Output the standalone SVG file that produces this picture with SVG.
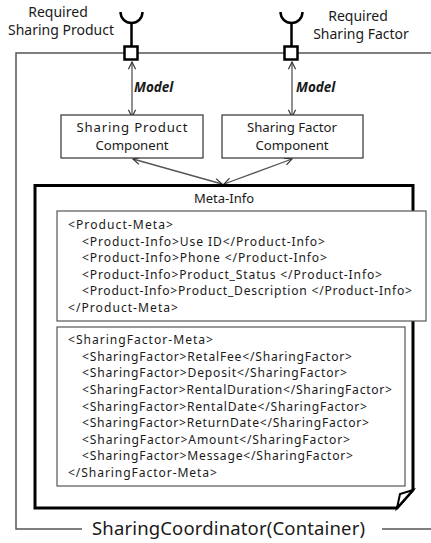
<svg xmlns="http://www.w3.org/2000/svg" width="431" height="543" viewBox="0 0 431 543">
<style>
text{font-family:"Noto Sans","Open Sans","DejaVu Sans",sans-serif;fill:#1a1a1a}
.lbl{font-size:14px}
.cmp{font-size:13.2px}
.code{font-size:12.1px}
.frame{fill:none;stroke:#555;stroke-width:1.5}
.box{fill:#fff;stroke:#333;stroke-width:1.2}
.gbox{fill:#fff;stroke:#555;stroke-width:1.2}
.port{fill:#fff;stroke:#000;stroke-width:2.5}
.sock{fill:none;stroke:#000;stroke-width:2.5}
.conn{stroke:#555;stroke-width:1.3;fill:none}
.model{font-size:13.5px;font-weight:bold;font-style:italic}
</style>
<defs>
<marker id="ah" viewBox="0 0 10 10" refX="9" refY="5" markerWidth="9" markerHeight="9" orient="auto-start-reverse" markerUnits="userSpaceOnUse">
<path d="M1,1 L9,5 L1,9" fill="none" stroke="#333" stroke-width="1.3"/>
</marker>
</defs>
<g id="container">
<path class="frame" d="M82,529 L16,529 L16,53 L431,53"/>
<path class="frame" d="M382,529 L431,529"/>
<text x="92" y="535" textLength="273" style="font-size:18.5px">SharingCoordinator(Container)</text>
</g>
<g id="port-product">
<path class="sock" d="M120.5,12 A11,11 0 0 0 142.5,12"/>
<line class="sock" x1="131.5" y1="23" x2="131.5" y2="46"/>
<rect class="port" x="124.5" y="46.5" width="13" height="13"/>
<text class="lbl" text-anchor="middle"><tspan x="58" y="17">Required</tspan><tspan x="61" y="35">Sharing Product</tspan></text>
</g>
<g id="port-factor">
<path class="sock" d="M280.5,12 A11,11 0 0 0 302.5,12"/>
<line class="sock" x1="291.5" y1="23" x2="291.5" y2="46"/>
<rect class="port" x="284.5" y="46.5" width="13" height="13"/>
<text class="lbl" text-anchor="middle"><tspan x="358" y="21">Required</tspan><tspan x="361" y="39">Sharing Factor</tspan></text>
</g>
<g id="connectors">
<line class="conn" x1="132" y1="62" x2="132" y2="117" marker-start="url(#ah)" marker-end="url(#ah)"/>
<line class="conn" x1="292" y1="62" x2="292" y2="117" marker-start="url(#ah)" marker-end="url(#ah)"/>
<line class="conn" x1="133" y1="159" x2="222" y2="184" marker-start="url(#ah)" marker-end="url(#ah)"/>
<line class="conn" x1="292" y1="159" x2="224" y2="184" marker-start="url(#ah)" marker-end="url(#ah)"/>
<text class="model" x="134" y="92">Model</text>
<text class="model" x="296" y="92">Model</text>
</g>
<g id="sharing-product-component">
<rect class="box" x="61" y="115" width="142" height="43"/>
<text class="cmp" text-anchor="middle"><tspan x="132" y="131.5" textLength="111">Sharing Product</tspan><tspan x="132" y="149.5">Component</tspan></text>
</g>
<g id="sharing-factor-component">
<rect class="box" x="222" y="115" width="141" height="43"/>
<text class="cmp" text-anchor="middle"><tspan x="292" y="131.5">Sharing Factor</tspan><tspan x="292" y="149.5">Component</tspan></text>
</g>
<g id="meta-info">
<path d="M35,185.5 L413,185.5 L413,490 L397,508 L35,508 Z" fill="#fff" stroke="#000" stroke-width="3"/>
<text x="224" y="203" text-anchor="middle" style="font-size:13px">Meta-Info</text>
</g>
<g id="product-meta">
<rect class="gbox" x="57" y="211" width="369" height="110"/>
<text class="code" x="68" y="229" textLength="105">&lt;Product-Meta&gt;</text>
<text class="code" x="82" y="245.6" textLength="243">&lt;Product-Info&gt;Use ID&lt;/Product-Info&gt;</text>
<text class="code" x="82" y="262.2" textLength="245">&lt;Product-Info&gt;Phone &lt;/Product-Info&gt;</text>
<text class="code" x="82" y="278.8" textLength="300">&lt;Product-Info&gt;Product_Status &lt;/Product-Info&gt;</text>
<text class="code" x="82" y="295.4" textLength="330">&lt;Product-Info&gt;Product_Description &lt;/Product-Info&gt;</text>
<text class="code" x="68" y="312" textLength="110">&lt;/Product-Meta&gt;</text>
</g>
<g id="sharing-factor-meta">
<rect class="gbox" x="57" y="327" width="348" height="159"/>
<text class="code" x="68" y="344" textLength="145">&lt;SharingFactor-Meta&gt;</text>
<text class="code" x="82" y="360.6" textLength="270">&lt;SharingFactor&gt;RetalFee&lt;/SharingFactor&gt;</text>
<text class="code" x="82" y="377.25" textLength="265">&lt;SharingFactor&gt;Deposit&lt;/SharingFactor&gt;</text>
<text class="code" x="82" y="393.9" textLength="310">&lt;SharingFactor&gt;RentalDuration&lt;/SharingFactor&gt;</text>
<text class="code" x="82" y="410.5" textLength="285">&lt;SharingFactor&gt;RentalDate&lt;/SharingFactor&gt;</text>
<text class="code" x="82" y="427.1" textLength="287">&lt;SharingFactor&gt;ReturnDate&lt;/SharingFactor&gt;</text>
<text class="code" x="82" y="443.75" textLength="268">&lt;SharingFactor&gt;Amount&lt;/SharingFactor&gt;</text>
<text class="code" x="82" y="460.4" textLength="271">&lt;SharingFactor&gt;Message&lt;/SharingFactor&gt;</text>
<text class="code" x="68" y="477" textLength="149">&lt;/SharingFactor-Meta&gt;</text>
</g>
<g id="fold">
<path d="M397,508 L400,494 L413,490 Z" fill="#fff" stroke="#000" stroke-width="2"/>
</g>
</svg>
